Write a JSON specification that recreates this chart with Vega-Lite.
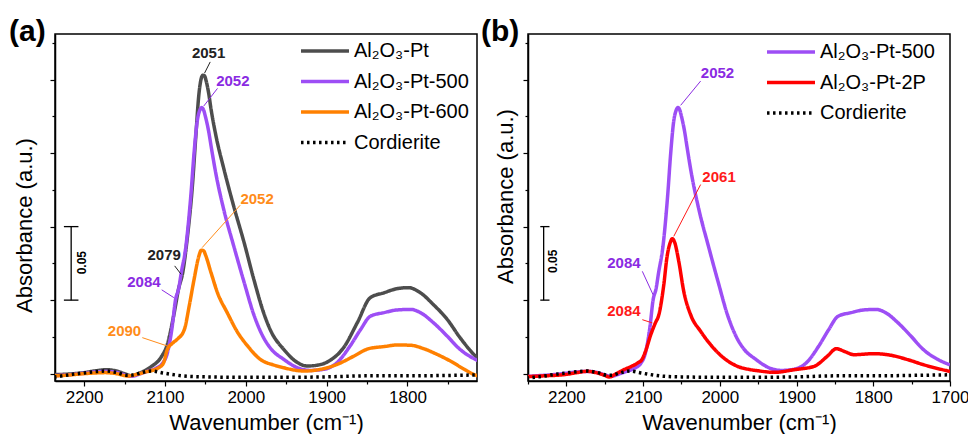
{
  "$schema": "https://vega.github.io/schema/vega-lite/v6.json",
  "padding": {"left": 8, "top": 16, "right": 0, "bottom": 0},
  "spacing": 2,
  "background": "white",
  "resolve": {
    "scale": {"x": "independent", "y": "independent", "color": "independent", "strokeDash": "independent", "strokeWidth": "independent", "fill": "independent", "stroke": "independent"},
    "legend": {"color": "independent", "strokeDash": "independent"}
  },
  "config": {
    "font": "Liberation Sans",
    "view": {"stroke": "#000", "strokeWidth": 1.5},
    "axis": {
      "grid": false, "domainColor": "#000", "domainWidth": 1.5, "tickColor": "#000", "tickWidth": 1.2,
      "labelFont": "Liberation Sans", "titleFont": "Liberation Sans", "labelFontSize": 17, "titleFontSize": 22,
      "titleFontWeight": "normal", "labelColor": "#000", "titleColor": "#000"
    }
  },
  "datasets": {
    "spectra": [
      {"series": "Al₂O₃-Pt", "wn": 2240, "A": -0.0007},
      {"series": "Al₂O₃-Pt", "wn": 2220, "A": -0.0003},
      {"series": "Al₂O₃-Pt", "wn": 2200, "A": 0.0007},
      {"series": "Al₂O₃-Pt", "wn": 2185, "A": 0.002},
      {"series": "Al₂O₃-Pt", "wn": 2172, "A": 0.0027},
      {"series": "Al₂O₃-Pt", "wn": 2160, "A": 0.0018},
      {"series": "Al₂O₃-Pt", "wn": 2150, "A": 0.0},
      {"series": "Al₂O₃-Pt", "wn": 2142, "A": -0.0014},
      {"series": "Al₂O₃-Pt", "wn": 2130, "A": 0.0007},
      {"series": "Al₂O₃-Pt", "wn": 2117, "A": 0.0048},
      {"series": "Al₂O₃-Pt", "wn": 2105, "A": 0.011},
      {"series": "Al₂O₃-Pt", "wn": 2097, "A": 0.02},
      {"series": "Al₂O₃-Pt", "wn": 2089, "A": 0.04},
      {"series": "Al₂O₃-Pt", "wn": 2083, "A": 0.058},
      {"series": "Al₂O₃-Pt", "wn": 2078, "A": 0.0687},
      {"series": "Al₂O₃-Pt", "wn": 2072, "A": 0.094},
      {"series": "Al₂O₃-Pt", "wn": 2066, "A": 0.128},
      {"series": "Al₂O₃-Pt", "wn": 2062, "A": 0.16},
      {"series": "Al₂O₃-Pt", "wn": 2058, "A": 0.19},
      {"series": "Al₂O₃-Pt", "wn": 2055, "A": 0.201},
      {"series": "Al₂O₃-Pt", "wn": 2053, "A": 0.203},
      {"series": "Al₂O₃-Pt", "wn": 2051, "A": 0.2025},
      {"series": "Al₂O₃-Pt", "wn": 2049, "A": 0.199},
      {"series": "Al₂O₃-Pt", "wn": 2046, "A": 0.191},
      {"series": "Al₂O₃-Pt", "wn": 2043, "A": 0.18},
      {"series": "Al₂O₃-Pt", "wn": 2037, "A": 0.162},
      {"series": "Al₂O₃-Pt", "wn": 2027, "A": 0.139},
      {"series": "Al₂O₃-Pt", "wn": 2015, "A": 0.114},
      {"series": "Al₂O₃-Pt", "wn": 2002, "A": 0.089},
      {"series": "Al₂O₃-Pt", "wn": 1990, "A": 0.064},
      {"series": "Al₂O₃-Pt", "wn": 1978, "A": 0.0415},
      {"series": "Al₂O₃-Pt", "wn": 1969, "A": 0.029},
      {"series": "Al₂O₃-Pt", "wn": 1953, "A": 0.0165},
      {"series": "Al₂O₃-Pt", "wn": 1936, "A": 0.0075},
      {"series": "Al₂O₃-Pt", "wn": 1924, "A": 0.0052},
      {"series": "Al₂O₃-Pt", "wn": 1912, "A": 0.0057},
      {"series": "Al₂O₃-Pt", "wn": 1897, "A": 0.0086},
      {"series": "Al₂O₃-Pt", "wn": 1879, "A": 0.0177},
      {"series": "Al₂O₃-Pt", "wn": 1862, "A": 0.0347},
      {"series": "Al₂O₃-Pt", "wn": 1846, "A": 0.0517},
      {"series": "Al₂O₃-Pt", "wn": 1829, "A": 0.055},
      {"series": "Al₂O₃-Pt", "wn": 1813, "A": 0.0578},
      {"series": "Al₂O₃-Pt", "wn": 1799, "A": 0.0585},
      {"series": "Al₂O₃-Pt", "wn": 1784, "A": 0.055},
      {"series": "Al₂O₃-Pt", "wn": 1768, "A": 0.047},
      {"series": "Al₂O₃-Pt", "wn": 1751, "A": 0.037},
      {"series": "Al₂O₃-Pt", "wn": 1735, "A": 0.0245},
      {"series": "Al₂O₃-Pt", "wn": 1716, "A": 0.012},
      {"series": "Al₂O₃-Pt", "wn": 1710, "A": 0.009},

      {"series": "Al₂O₃-Pt-500", "wn": 2252, "A": -0.002},
      {"series": "Al₂O₃-Pt-500", "wn": 2240, "A": -0.0015},
      {"series": "Al₂O₃-Pt-500", "wn": 2220, "A": -0.0008},
      {"series": "Al₂O₃-Pt-500", "wn": 2200, "A": 0.0003},
      {"series": "Al₂O₃-Pt-500", "wn": 2185, "A": 0.0012},
      {"series": "Al₂O₃-Pt-500", "wn": 2172, "A": 0.0015},
      {"series": "Al₂O₃-Pt-500", "wn": 2160, "A": 0.0008},
      {"series": "Al₂O₃-Pt-500", "wn": 2150, "A": -0.0008},
      {"series": "Al₂O₃-Pt-500", "wn": 2142, "A": -0.0018},
      {"series": "Al₂O₃-Pt-500", "wn": 2130, "A": 0.0},
      {"series": "Al₂O₃-Pt-500", "wn": 2122, "A": 0.0015},
      {"series": "Al₂O₃-Pt-500", "wn": 2110, "A": 0.004},
      {"series": "Al₂O₃-Pt-500", "wn": 2103, "A": 0.007},
      {"series": "Al₂O₃-Pt-500", "wn": 2097, "A": 0.014},
      {"series": "Al₂O₃-Pt-500", "wn": 2091, "A": 0.032},
      {"series": "Al₂O₃-Pt-500", "wn": 2087, "A": 0.05},
      {"series": "Al₂O₃-Pt-500", "wn": 2083, "A": 0.058},
      {"series": "Al₂O₃-Pt-500", "wn": 2080, "A": 0.068},
      {"series": "Al₂O₃-Pt-500", "wn": 2074, "A": 0.087},
      {"series": "Al₂O₃-Pt-500", "wn": 2068, "A": 0.121},
      {"series": "Al₂O₃-Pt-500", "wn": 2064, "A": 0.15},
      {"series": "Al₂O₃-Pt-500", "wn": 2060, "A": 0.172},
      {"series": "Al₂O₃-Pt-500", "wn": 2057, "A": 0.179},
      {"series": "Al₂O₃-Pt-500", "wn": 2054.5, "A": 0.181},
      {"series": "Al₂O₃-Pt-500", "wn": 2052, "A": 0.179},
      {"series": "Al₂O₃-Pt-500", "wn": 2050, "A": 0.175},
      {"series": "Al₂O₃-Pt-500", "wn": 2046, "A": 0.165},
      {"series": "Al₂O₃-Pt-500", "wn": 2043, "A": 0.155},
      {"series": "Al₂O₃-Pt-500", "wn": 2037, "A": 0.136},
      {"series": "Al₂O₃-Pt-500", "wn": 2027, "A": 0.111},
      {"series": "Al₂O₃-Pt-500", "wn": 2015, "A": 0.087},
      {"series": "Al₂O₃-Pt-500", "wn": 2002, "A": 0.062},
      {"series": "Al₂O₃-Pt-500", "wn": 1990, "A": 0.04},
      {"series": "Al₂O₃-Pt-500", "wn": 1978, "A": 0.0245},
      {"series": "Al₂O₃-Pt-500", "wn": 1969, "A": 0.017},
      {"series": "Al₂O₃-Pt-500", "wn": 1953, "A": 0.0097},
      {"series": "Al₂O₃-Pt-500", "wn": 1936, "A": 0.004},
      {"series": "Al₂O₃-Pt-500", "wn": 1920, "A": 0.0022},
      {"series": "Al₂O₃-Pt-500", "wn": 1903, "A": 0.003},
      {"series": "Al₂O₃-Pt-500", "wn": 1887, "A": 0.0075},
      {"series": "Al₂O₃-Pt-500", "wn": 1871, "A": 0.0188},
      {"series": "Al₂O₃-Pt-500", "wn": 1858, "A": 0.03},
      {"series": "Al₂O₃-Pt-500", "wn": 1846, "A": 0.039},
      {"series": "Al₂O₃-Pt-500", "wn": 1829, "A": 0.0415},
      {"series": "Al₂O₃-Pt-500", "wn": 1813, "A": 0.0433},
      {"series": "Al₂O₃-Pt-500", "wn": 1796, "A": 0.0437},
      {"series": "Al₂O₃-Pt-500", "wn": 1784, "A": 0.0415},
      {"series": "Al₂O₃-Pt-500", "wn": 1768, "A": 0.0347},
      {"series": "Al₂O₃-Pt-500", "wn": 1751, "A": 0.0256},
      {"series": "Al₂O₃-Pt-500", "wn": 1735, "A": 0.0165},
      {"series": "Al₂O₃-Pt-500", "wn": 1716, "A": 0.0097},
      {"series": "Al₂O₃-Pt-500", "wn": 1700, "A": 0.006},

      {"series": "Al₂O₃-Pt-600", "wn": 2240, "A": -0.0016},
      {"series": "Al₂O₃-Pt-600", "wn": 2220, "A": -0.001},
      {"series": "Al₂O₃-Pt-600", "wn": 2200, "A": 0.0},
      {"series": "Al₂O₃-Pt-600", "wn": 2185, "A": 0.0005},
      {"series": "Al₂O₃-Pt-600", "wn": 2174, "A": 0.0007},
      {"series": "Al₂O₃-Pt-600", "wn": 2160, "A": 0.0},
      {"series": "Al₂O₃-Pt-600", "wn": 2146, "A": -0.0016},
      {"series": "Al₂O₃-Pt-600", "wn": 2135, "A": -0.0005},
      {"series": "Al₂O₃-Pt-600", "wn": 2125, "A": 0.001},
      {"series": "Al₂O₃-Pt-600", "wn": 2108, "A": 0.004},
      {"series": "Al₂O₃-Pt-600", "wn": 2102, "A": 0.007},
      {"series": "Al₂O₃-Pt-600", "wn": 2097, "A": 0.0165},
      {"series": "Al₂O₃-Pt-600", "wn": 2090, "A": 0.021},
      {"series": "Al₂O₃-Pt-600", "wn": 2085, "A": 0.0233},
      {"series": "Al₂O₃-Pt-600", "wn": 2076, "A": 0.03},
      {"series": "Al₂O₃-Pt-600", "wn": 2070, "A": 0.046},
      {"series": "Al₂O₃-Pt-600", "wn": 2064, "A": 0.064},
      {"series": "Al₂O₃-Pt-600", "wn": 2058, "A": 0.08},
      {"series": "Al₂O₃-Pt-600", "wn": 2055, "A": 0.084},
      {"series": "Al₂O₃-Pt-600", "wn": 2052, "A": 0.0835},
      {"series": "Al₂O₃-Pt-600", "wn": 2050, "A": 0.081},
      {"series": "Al₂O₃-Pt-600", "wn": 2043, "A": 0.0687},
      {"series": "Al₂O₃-Pt-600", "wn": 2035, "A": 0.055},
      {"series": "Al₂O₃-Pt-600", "wn": 2023, "A": 0.0415},
      {"series": "Al₂O₃-Pt-600", "wn": 2010, "A": 0.028},
      {"series": "Al₂O₃-Pt-600", "wn": 1998, "A": 0.019},
      {"series": "Al₂O₃-Pt-600", "wn": 1982, "A": 0.0097},
      {"series": "Al₂O₃-Pt-600", "wn": 1965, "A": 0.0058},
      {"series": "Al₂O₃-Pt-600", "wn": 1953, "A": 0.004},
      {"series": "Al₂O₃-Pt-600", "wn": 1928, "A": 0.0018},
      {"series": "Al₂O₃-Pt-600", "wn": 1907, "A": 0.003},
      {"series": "Al₂O₃-Pt-600", "wn": 1887, "A": 0.0063},
      {"series": "Al₂O₃-Pt-600", "wn": 1866, "A": 0.012},
      {"series": "Al₂O₃-Pt-600", "wn": 1848, "A": 0.017},
      {"series": "Al₂O₃-Pt-600", "wn": 1829, "A": 0.0184},
      {"series": "Al₂O₃-Pt-600", "wn": 1813, "A": 0.0195},
      {"series": "Al₂O₃-Pt-600", "wn": 1796, "A": 0.0193},
      {"series": "Al₂O₃-Pt-600", "wn": 1780, "A": 0.017},
      {"series": "Al₂O₃-Pt-600", "wn": 1763, "A": 0.013},
      {"series": "Al₂O₃-Pt-600", "wn": 1747, "A": 0.0086},
      {"series": "Al₂O₃-Pt-600", "wn": 1731, "A": 0.0034},
      {"series": "Al₂O₃-Pt-600", "wn": 1718, "A": -0.0005},
      {"series": "Al₂O₃-Pt-600", "wn": 1710, "A": -0.002},

      {"series": "Al₂O₃-Pt-2P", "wn": 2252, "A": -0.002},
      {"series": "Al₂O₃-Pt-2P", "wn": 2230, "A": -0.0015},
      {"series": "Al₂O₃-Pt-2P", "wn": 2203, "A": -0.0007},
      {"series": "Al₂O₃-Pt-2P", "wn": 2185, "A": 0.0008},
      {"series": "Al₂O₃-Pt-2P", "wn": 2173, "A": 0.0016},
      {"series": "Al₂O₃-Pt-2P", "wn": 2160, "A": 0.0005},
      {"series": "Al₂O₃-Pt-2P", "wn": 2150, "A": -0.0012},
      {"series": "Al₂O₃-Pt-2P", "wn": 2144, "A": -0.0023},
      {"series": "Al₂O₃-Pt-2P", "wn": 2135, "A": 0.0},
      {"series": "Al₂O₃-Pt-2P", "wn": 2125, "A": 0.0027},
      {"series": "Al₂O₃-Pt-2P", "wn": 2115, "A": 0.005},
      {"series": "Al₂O₃-Pt-2P", "wn": 2107, "A": 0.0073},
      {"series": "Al₂O₃-Pt-2P", "wn": 2101, "A": 0.01},
      {"series": "Al₂O₃-Pt-2P", "wn": 2097, "A": 0.015},
      {"series": "Al₂O₃-Pt-2P", "wn": 2090, "A": 0.0265},
      {"series": "Al₂O₃-Pt-2P", "wn": 2084, "A": 0.0345},
      {"series": "Al₂O₃-Pt-2P", "wn": 2079.5, "A": 0.04},
      {"series": "Al₂O₃-Pt-2P", "wn": 2073, "A": 0.0605},
      {"series": "Al₂O₃-Pt-2P", "wn": 2069, "A": 0.0787},
      {"series": "Al₂O₃-Pt-2P", "wn": 2064, "A": 0.09},
      {"series": "Al₂O₃-Pt-2P", "wn": 2062, "A": 0.0918},
      {"series": "Al₂O₃-Pt-2P", "wn": 2059, "A": 0.0895},
      {"series": "Al₂O₃-Pt-2P", "wn": 2053.5, "A": 0.0764},
      {"series": "Al₂O₃-Pt-2P", "wn": 2047, "A": 0.056},
      {"series": "Al₂O₃-Pt-2P", "wn": 2038, "A": 0.04},
      {"series": "Al₂O₃-Pt-2P", "wn": 2025, "A": 0.0288},
      {"series": "Al₂O₃-Pt-2P", "wn": 2012, "A": 0.0197},
      {"series": "Al₂O₃-Pt-2P", "wn": 1995, "A": 0.0107},
      {"series": "Al₂O₃-Pt-2P", "wn": 1977, "A": 0.005},
      {"series": "Al₂O₃-Pt-2P", "wn": 1960, "A": 0.0027},
      {"series": "Al₂O₃-Pt-2P", "wn": 1951, "A": 0.002},
      {"series": "Al₂O₃-Pt-2P", "wn": 1929, "A": 0.0009},
      {"series": "Al₂O₃-Pt-2P", "wn": 1903, "A": 0.0027},
      {"series": "Al₂O₃-Pt-2P", "wn": 1877, "A": 0.005},
      {"series": "Al₂O₃-Pt-2P", "wn": 1860, "A": 0.0118},
      {"series": "Al₂O₃-Pt-2P", "wn": 1848, "A": 0.017},
      {"series": "Al₂O₃-Pt-2P", "wn": 1838, "A": 0.0152},
      {"series": "Al₂O₃-Pt-2P", "wn": 1825, "A": 0.0129},
      {"series": "Al₂O₃-Pt-2P", "wn": 1799, "A": 0.0136},
      {"series": "Al₂O₃-Pt-2P", "wn": 1777, "A": 0.0125},
      {"series": "Al₂O₃-Pt-2P", "wn": 1755, "A": 0.0095},
      {"series": "Al₂O₃-Pt-2P", "wn": 1734, "A": 0.006},
      {"series": "Al₂O₃-Pt-2P", "wn": 1700, "A": 0.0015},

      {"series": "Cordierite", "wn": 2252, "A": -0.003},
      {"series": "Cordierite", "wn": 2236, "A": -0.0022},
      {"series": "Cordierite", "wn": 2215, "A": -0.0005},
      {"series": "Cordierite", "wn": 2200, "A": 0.0005},
      {"series": "Cordierite", "wn": 2185, "A": 0.0014},
      {"series": "Cordierite", "wn": 2174, "A": 0.0018},
      {"series": "Cordierite", "wn": 2160, "A": 0.0008},
      {"series": "Cordierite", "wn": 2146, "A": -0.0011},
      {"series": "Cordierite", "wn": 2140, "A": -0.001},
      {"series": "Cordierite", "wn": 2130, "A": 0.0005},
      {"series": "Cordierite", "wn": 2117, "A": 0.0018},
      {"series": "Cordierite", "wn": 2103, "A": 0.0005},
      {"series": "Cordierite", "wn": 2092, "A": -0.0005},
      {"series": "Cordierite", "wn": 2072, "A": -0.0018},
      {"series": "Cordierite", "wn": 2050, "A": -0.0022},
      {"series": "Cordierite", "wn": 2000, "A": -0.0025},
      {"series": "Cordierite", "wn": 1950, "A": -0.0025},
      {"series": "Cordierite", "wn": 1900, "A": -0.0022},
      {"series": "Cordierite", "wn": 1850, "A": -0.0015},
      {"series": "Cordierite", "wn": 1800, "A": -0.0015},
      {"series": "Cordierite", "wn": 1750, "A": -0.0012},
      {"series": "Cordierite", "wn": 1700, "A": -0.0008}
    ],
    "barA": [
      {"wn": 2216, "wn2": 2216, "A": 0.05, "A2": 0.1},
      {"wn": 2225, "wn2": 2207, "A": 0.05, "A2": 0.05},
      {"wn": 2225, "wn2": 2207, "A": 0.1, "A2": 0.1}
    ],
    "barB": [
      {"wn": 2229.6, "wn2": 2229.6, "A": 0.05, "A2": 0.1},
      {"wn": 2234, "wn2": 2222, "A": 0.05, "A2": 0.05},
      {"wn": 2234, "wn2": 2222, "A": 0.1, "A2": 0.1}
    ],
    "barTextA": [{"wn": 2203, "A": 0.0755, "label": "0.05"}],
    "barTextB": [{"wn": 2217, "A": 0.0764, "label": "0.05"}],
    "notesA": [
      {"series": "Al₂O₃-Pt", "wn": 2046, "A": 0.218, "label": "2051"},
      {"series": "Al₂O₃-Pt-500", "wn": 2016, "A": 0.199, "label": "2052"},
      {"series": "Al₂O₃-Pt-600", "wn": 1986, "A": 0.119, "label": "2052"},
      {"series": "Al₂O₃-Pt", "wn": 2101, "A": 0.081, "label": "2079"},
      {"series": "Al₂O₃-Pt-500", "wn": 2126, "A": 0.062, "label": "2084"},
      {"series": "Al₂O₃-Pt-600", "wn": 2150, "A": 0.029, "label": "2090"}
    ],
    "leadersA": [
      {"series": "Al₂O₃-Pt", "wn": 2044, "wn2": 2051, "A": 0.212, "A2": 0.2044},
      {"series": "Al₂O₃-Pt-500", "wn": 2035, "wn2": 2052, "A": 0.194, "A2": 0.182},
      {"series": "Al₂O₃-Pt-600", "wn": 2007, "wn2": 2054, "A": 0.1145, "A2": 0.0857},
      {"series": "Al₂O₃-Pt", "wn": 2088, "wn2": 2080, "A": 0.0733, "A2": 0.0676},
      {"series": "Al₂O₃-Pt-500", "wn": 2104, "wn2": 2089, "A": 0.057, "A2": 0.0517},
      {"series": "Al₂O₃-Pt-600", "wn": 2128, "wn2": 2097, "A": 0.0245, "A2": 0.0188}
    ],
    "notesB": [
      {"series": "Al₂O₃-Pt-500", "wn": 2003, "A": 0.2046, "label": "2052"},
      {"series": "Al₂O₃-Pt-2P", "wn": 2001, "A": 0.134, "label": "2061"},
      {"series": "Al₂O₃-Pt-500", "wn": 2125, "A": 0.0753, "label": "2084"},
      {"series": "Al₂O₃-Pt-2P", "wn": 2125, "A": 0.0424, "label": "2084"}
    ],
    "leadersB": [
      {"series": "Al₂O₃-Pt-500", "wn": 2025, "wn2": 2051, "A": 0.199, "A2": 0.1825},
      {"series": "Al₂O₃-Pt-2P", "wn": 2025, "wn2": 2060, "A": 0.1286, "A2": 0.0934},
      {"series": "Al₂O₃-Pt-500", "wn": 2101, "wn2": 2087, "A": 0.0696, "A2": 0.0537},
      {"series": "Al₂O₃-Pt-2P", "wn": 2101, "wn2": 2088, "A": 0.0367, "A2": 0.0345}
    ]
  },
  "hconcat": [
    {
      "width": 422,
      "height": 347,
      "title": {"text": "(a)", "anchor": "start", "frame": "group", "fontSize": 30, "fontWeight": "bold", "font": "Liberation Sans", "color": "#000", "baseline": "alphabetic", "offset": -9, "dx": -46, "dy": 28},
      "encoding": {
        "x": {"field": "wn", "type": "quantitative",
          "scale": {"domain": [1714, 2236], "reverse": true, "nice": false, "zero": false},
          "axis": {"title": "Wavenumber (cm⁻¹)", "values": [2200, 2150, 2100, 2050, 2000, 1950, 1900, 1850, 1800, 1750], "format": "d",
            "labelExpr": "datum.value % 100 === 0 ? datum.label : ''", "labelFlush": false, "labelPadding": 3, "titlePadding": 7,
            "tickSize": {"condition": {"test": "datum.value % 100 === 0", "value": 5}, "value": 3}}},
        "y": {"field": "A", "type": "quantitative",
          "scale": {"domain": [-0.005, 0.231], "nice": false, "zero": false},
          "axis": {"title": "Absorbance (a.u.)", "labels": false, "values": [0, 0.025, 0.05, 0.075, 0.1, 0.125, 0.15, 0.175, 0.2, 0.225],
            "titlePadding": 13, "titleY": 191,
            "tickSize": {"condition": {"test": "abs(datum.value*20 - round(datum.value*20)) < 0.01", "value": 5}, "value": 3}}}
      },
      "layer": [
        {
          "data": {"name": "spectra"},
          "transform": [{"filter": {"field": "series", "oneOf": ["Al₂O₃-Pt", "Al₂O₃-Pt-500", "Al₂O₃-Pt-600", "Cordierite"]}}],
          "mark": {"type": "line", "clip": true, "interpolate": "monotone", "strokeJoin": "round", "strokeCap": "butt"},
          "encoding": {
            "color": {"field": "series", "type": "nominal",
              "scale": {"domain": ["Al₂O₃-Pt", "Al₂O₃-Pt-500", "Al₂O₃-Pt-600", "Cordierite"], "range": ["#4d4d4d", "#9d4ef5", "#ff8000", "#000000"]},
              "legend": {"title": null, "orient": "none", "legendX": 246, "legendY": 7, "symbolType": "M-5,0H5", "symbolSize": 92, "symbolStrokeWidth": 4, "symbolOffset": 14, "labelOffset": 19, "labelFontSize": 20, "labelFont": "Liberation Sans", "labelColor": "#000", "rowPadding": 10.5, "padding": 0, "labelLimit": 300,
                "encode": {"symbols": {"update": {"strokeWidth": {"signal": "datum.value === 'Cordierite' ? 2 : 4"}}}}}},
            "strokeDash": {"field": "series", "type": "nominal",
              "scale": {"domain": ["Al₂O₃-Pt", "Al₂O₃-Pt-500", "Al₂O₃-Pt-600", "Cordierite"], "range": [[1, 0], [1, 0], [1, 0], [2.5, 3.5]]},
              "legend": {"title": null, "orient": "none", "legendX": 246, "legendY": 7, "symbolType": "M-5,0H5", "symbolSize": 92, "symbolStrokeWidth": 4, "symbolOffset": 14, "labelOffset": 19, "labelFontSize": 20, "labelFont": "Liberation Sans", "labelColor": "#000", "rowPadding": 10.5, "padding": 0, "labelLimit": 300,
                "encode": {"symbols": {"update": {"strokeWidth": {"signal": "datum.value === 'Cordierite' ? 2 : 4"}}}}}},
            "strokeWidth": {"field": "series", "type": "nominal",
              "scale": {"domain": ["Al₂O₃-Pt", "Al₂O₃-Pt-500", "Al₂O₃-Pt-600", "Cordierite"], "range": [3.5, 3.5, 3.5, 2.5]}, "legend": null}
          }
        },
        {
          "data": {"name": "barA"},
          "mark": {"type": "rule", "color": "#000", "strokeWidth": 1.3},
          "encoding": {"x2": {"field": "wn2"}, "y2": {"field": "A2"}}
        },
        {
          "data": {"name": "barTextA"},
          "mark": {"type": "text", "angle": 270, "fontSize": 12, "fontWeight": "bold", "font": "Liberation Sans", "color": "#000", "align": "center", "baseline": "middle"},
          "encoding": {"text": {"field": "label"}}
        },
        {
          "data": {"name": "leadersA"},
          "mark": {"type": "rule", "strokeWidth": 1},
          "encoding": {
            "x2": {"field": "wn2"}, "y2": {"field": "A2"},
            "stroke": {"field": "series", "type": "nominal", "legend": null,
              "scale": {"domain": ["Al₂O₃-Pt", "Al₂O₃-Pt-500", "Al₂O₃-Pt-600"], "range": ["#222222", "#8a2be2", "#ff8c1a"]}}
          }
        },
        {
          "data": {"name": "notesA"},
          "mark": {"type": "text", "fontSize": 15, "fontWeight": "bold", "font": "Liberation Sans", "align": "center", "baseline": "middle"},
          "encoding": {
            "text": {"field": "label"},
            "fill": {"field": "series", "type": "nominal", "legend": null,
              "scale": {"domain": ["Al₂O₃-Pt", "Al₂O₃-Pt-500", "Al₂O₃-Pt-600"], "range": ["#222222", "#8a2be2", "#ff8c1a"]}}
          }
        }
      ]
    },
    {
      "width": 422,
      "height": 347,
      "title": {"text": "(b)", "anchor": "start", "frame": "group", "fontSize": 30, "fontWeight": "bold", "font": "Liberation Sans", "color": "#000", "baseline": "alphabetic", "offset": -9, "dx": -47, "dy": 28},
      "encoding": {
        "x": {"field": "wn", "type": "quantitative",
          "scale": {"domain": [1700, 2250], "reverse": true, "nice": false, "zero": false},
          "axis": {"title": "Wavenumber (cm⁻¹)", "values": [2250, 2200, 2150, 2100, 2050, 2000, 1950, 1900, 1850, 1800, 1750, 1700], "format": "d",
            "labelExpr": "datum.value % 100 === 0 ? datum.label : ''", "labelFlush": false, "labelPadding": 3, "titlePadding": 7,
            "tickSize": {"condition": {"test": "datum.value % 100 === 0", "value": 5}, "value": 3}}},
        "y": {"field": "A", "type": "quantitative",
          "scale": {"domain": [-0.005, 0.231], "nice": false, "zero": false},
          "axis": {"title": "Absorbance (a.u.)", "labels": false, "values": [0, 0.025, 0.05, 0.075, 0.1, 0.125, 0.15, 0.175, 0.2, 0.225],
            "titlePadding": 5, "titleY": 162,
            "tickSize": {"condition": {"test": "abs(datum.value*20 - round(datum.value*20)) < 0.01", "value": 5}, "value": 3}}}
      },
      "layer": [
        {
          "data": {"name": "spectra"},
          "transform": [{"filter": {"field": "series", "oneOf": ["Al₂O₃-Pt-500", "Al₂O₃-Pt-2P", "Cordierite"]}}],
          "mark": {"type": "line", "clip": true, "interpolate": "monotone", "strokeJoin": "round", "strokeCap": "butt"},
          "encoding": {
            "color": {"field": "series", "type": "nominal",
              "scale": {"domain": ["Al₂O₃-Pt-500", "Al₂O₃-Pt-2P", "Cordierite"], "range": ["#9d4ef5", "#ff0000", "#000000"]},
              "legend": {"title": null, "orient": "none", "legendX": 239, "legendY": 8, "symbolType": "M-5,0H5", "symbolSize": 92, "symbolStrokeWidth": 4, "symbolOffset": 14, "labelOffset": 19, "labelFontSize": 20, "labelFont": "Liberation Sans", "labelColor": "#000", "rowPadding": 10.5, "padding": 0, "labelLimit": 300,
                "encode": {"symbols": {"update": {"strokeWidth": {"signal": "datum.value === 'Cordierite' ? 2 : 4"}}}}}},
            "strokeDash": {"field": "series", "type": "nominal",
              "scale": {"domain": ["Al₂O₃-Pt-500", "Al₂O₃-Pt-2P", "Cordierite"], "range": [[1, 0], [1, 0], [2.5, 3.5]]},
              "legend": {"title": null, "orient": "none", "legendX": 239, "legendY": 8, "symbolType": "M-5,0H5", "symbolSize": 92, "symbolStrokeWidth": 4, "symbolOffset": 14, "labelOffset": 19, "labelFontSize": 20, "labelFont": "Liberation Sans", "labelColor": "#000", "rowPadding": 10.5, "padding": 0, "labelLimit": 300,
                "encode": {"symbols": {"update": {"strokeWidth": {"signal": "datum.value === 'Cordierite' ? 2 : 4"}}}}}},
            "strokeWidth": {"field": "series", "type": "nominal",
              "scale": {"domain": ["Al₂O₃-Pt-500", "Al₂O₃-Pt-2P", "Cordierite"], "range": [3.5, 3.5, 2.5]}, "legend": null}
          }
        },
        {
          "data": {"name": "barB"},
          "mark": {"type": "rule", "color": "#000", "strokeWidth": 1.3},
          "encoding": {"x2": {"field": "wn2"}, "y2": {"field": "A2"}}
        },
        {
          "data": {"name": "barTextB"},
          "mark": {"type": "text", "angle": 270, "fontSize": 12, "fontWeight": "bold", "font": "Liberation Sans", "color": "#000", "align": "center", "baseline": "middle"},
          "encoding": {"text": {"field": "label"}}
        },
        {
          "data": {"name": "leadersB"},
          "mark": {"type": "rule", "strokeWidth": 1},
          "encoding": {
            "x2": {"field": "wn2"}, "y2": {"field": "A2"},
            "stroke": {"field": "series", "type": "nominal", "legend": null,
              "scale": {"domain": ["Al₂O₃-Pt-500", "Al₂O₃-Pt-2P"], "range": ["#8a2be2", "#ff1a1a"]}}
          }
        },
        {
          "data": {"name": "notesB"},
          "mark": {"type": "text", "fontSize": 15, "fontWeight": "bold", "font": "Liberation Sans", "align": "center", "baseline": "middle"},
          "encoding": {
            "text": {"field": "label"},
            "fill": {"field": "series", "type": "nominal", "legend": null,
              "scale": {"domain": ["Al₂O₃-Pt-500", "Al₂O₃-Pt-2P"], "range": ["#8a2be2", "#ff1a1a"]}}
          }
        }
      ]
    }
  ]
}
